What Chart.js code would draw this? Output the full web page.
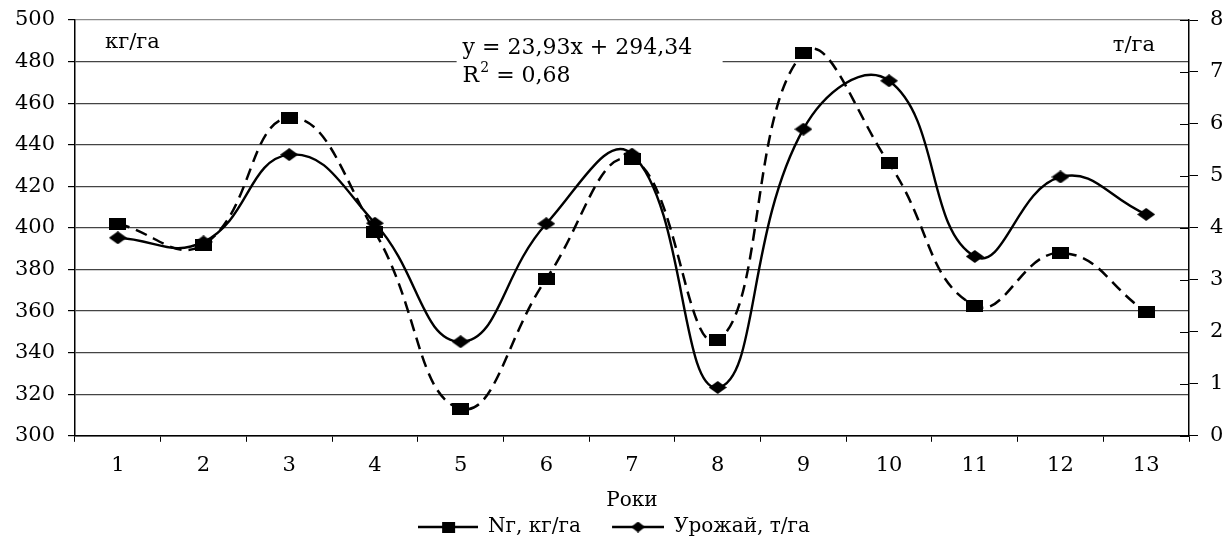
<!DOCTYPE html>
<html>
<head>
<meta charset="utf-8">
<script src="https://cdn.jsdelivr.net/npm/chart.js@4/dist/chart.umd.min.js"></script>
<style>
  html, body { margin: 0; padding: 0; background: #fff; }
  #wrap { width: 1228px; height: 547px; }
</style>
</head>
<body>
<div id="wrap"><canvas id="chart"></canvas></div>
<script>
// data
const years = ['1', '2', '3', '4', '5', '6', '7', '8', '9', '10', '11', '12', '13'];
const nitrogen = [402, 392, 453, 398, 313, 375.5, 433, 346, 484, 431, 362.6, 388, 359.5]; // Nг, кг/га
const harvest = [3.81, 3.73, 5.41, 4.09, 1.81, 4.08, 5.42, 0.93, 5.9, 6.83, 3.45, 4.98, 4.26]; // Урожай, т/га
const leftTicks = { min: 300, max: 500, step: 20 };
const rightTicks = { min: 0, max: 8, step: 1 };
const trendText = ['y = 23,93x + 294,34', 'R² = 0,68'];

const FONT = 'DejaVu Serif';

function rectMarker(w, h) {
  const c = document.createElement('canvas');
  c.width = w; c.height = h;
  const g = c.getContext('2d');
  g.fillStyle = '#000';
  g.fillRect(0, 0, w, h);
  return c;
}

function diamondMarker(w, h) {
  const c = document.createElement('canvas');
  c.width = w; c.height = h;
  const g = c.getContext('2d');
  g.fillStyle = '#000';
  g.beginPath();
  g.moveTo(w / 2, 0);
  g.lineTo(w, h / 2);
  g.lineTo(w / 2, h);
  g.lineTo(0, h / 2);
  g.closePath();
  g.fill();
  return c;
}

// legend sample: line with the marker in the middle, right-aligned in a fixed box
function legendIcon(marker, lineLen, boxW) {
  const c = document.createElement('canvas');
  c.width = boxW; c.height = 16;
  const g = c.getContext('2d');
  const x0 = boxW - lineLen;
  g.strokeStyle = '#000';
  g.lineWidth = 2.5;
  g.beginPath();
  g.moveTo(x0, 8);
  g.lineTo(boxW, 8);
  g.stroke();
  g.drawImage(marker, x0 + (lineLen - marker.width) / 2, (16 - marker.height) / 2);
  return c;
}

const squareBig = rectMarker(17, 12);
const diamondBig = diamondMarker(18, 13);
const legendIcons = [
  legendIcon(rectMarker(13, 11), 60, 60),
  legendIcon(diamondMarker(14, 11), 52, 60)
];

// inner half of right axis ticks + unit labels + trend box
const extras = {
  id: 'extras',
  beforeDatasetsDraw(chart) {
    const ctx = chart.ctx;
    const area = chart.chartArea;
    const yR = chart.scales.yR;
    ctx.save();
    ctx.strokeStyle = '#000';
    ctx.lineWidth = 1;
    for (let v = rightTicks.min; v <= rightTicks.max; v += rightTicks.step) {
      const y = Math.round(yR.getPixelForValue(v)) + 0.5;
      ctx.beginPath();
      ctx.moveTo(area.right - 9, y);
      ctx.lineTo(area.right, y);
      ctx.stroke();
    }

    // white box behind the equation
    const yL = chart.scales.y;
    const x0 = chart.scales.x.getPixelForValue(4) - 4;
    const yTop = yL.getPixelForValue(493);
    const yBot = yL.getPixelForValue(465);
    ctx.fillStyle = '#fff';
    ctx.fillRect(x0, yTop, 266, yBot - yTop);

    ctx.fillStyle = '#000';
    ctx.font = '22px "' + FONT + '"';
    ctx.textBaseline = 'middle';
    ctx.textAlign = 'left';
    ctx.fillText(trendText[0], x0 + 6, yL.getPixelForValue(486.5));
    ctx.fillText('R', x0 + 6, yL.getPixelForValue(473));
    const rw = ctx.measureText('R').width;
    ctx.font = '14px "' + FONT + '"';
    ctx.fillText('2', x0 + 6 + rw + 1, yL.getPixelForValue(476.5));
    ctx.font = '22px "' + FONT + '"';
    ctx.fillText(trendText[1].slice(2), x0 + 6 + rw + 10, yL.getPixelForValue(473));

    ctx.font = '21px "' + FONT + '"';
    ctx.fillText('кг/га', area.left + 30, yL.getPixelForValue(489));
    ctx.textAlign = 'right';
    ctx.fillText('т/га', area.right - 34, yR.getPixelForValue(7.5));
    ctx.restore();
  }
};

function noVerticalPad(s) {
  s.paddingTop = 0;
  s.paddingBottom = 0;
}

new Chart(document.getElementById('chart'), {
  type: 'line',
  data: {
    labels: years,
    datasets: [
      {
        label: 'Nг, кг/га',
        data: nitrogen,
        yAxisID: 'y',
        borderColor: '#000',
        borderWidth: 2.5,
        borderDash: [12, 7],
        tension: 0.45,
        pointStyle: squareBig,
        pointRadius: 6,
        fill: false
      },
      {
        label: 'Урожай, т/га',
        data: harvest,
        yAxisID: 'yR',
        borderColor: '#000',
        borderWidth: 2.4,
        tension: 0.45,
        pointStyle: diamondBig,
        pointRadius: 6,
        fill: false
      }
    ]
  },
  options: {
    responsive: true,
    maintainAspectRatio: false,
    animation: false,
    devicePixelRatio: 1,
    layout: { padding: { top: 20, left: 0, right: 0, bottom: 0 } },
    plugins: {
      tooltip: { enabled: false },
      legend: {
        position: 'bottom',
        labels: {
          color: '#000',
          font: { family: FONT, size: 20 },
          usePointStyle: true,
          pointStyleWidth: 60,
          padding: 4,
          generateLabels(chart) {
            const items = Chart.defaults.plugins.legend.labels.generateLabels(chart);
            items.forEach((it, i) => {
              it.pointStyle = legendIcons[i];
              it.lineDash = [];
              if (i === 0) it.text += '   ';
            });
            return items;
          }
        }
      }
    },
    scales: {
      x: {
        offset: true,
        grid: {
          offset: true,
          drawOnChartArea: false,
          tickLength: 6,
          tickColor: '#000',
          tickWidth: 1
        },
        border: { color: '#000', width: 1.5 },
        ticks: {
          color: '#000',
          font: { family: FONT, size: 21 },
          padding: 11,
          maxRotation: 0
        },
        title: {
          display: true,
          text: 'Роки',
          color: '#000',
          font: { family: FONT, size: 20 },
          padding: { top: 0, bottom: 0 }
        }
      },
      y: {
        position: 'left',
        min: leftTicks.min,
        max: leftTicks.max,
        afterFit(s) { s.width = 75; noVerticalPad(s); },
        grid: {
          color: ctx => ctx.tick && ctx.tick.value === leftTicks.max ? '#8c8c8c' : '#444',
          lineWidth: 1.2,
          tickLength: 7,
          tickColor: '#000'
        },
        border: { color: '#000', width: 1.5 },
        ticks: {
          stepSize: leftTicks.step,
          color: '#000',
          font: { family: FONT, size: 21 },
          padding: 13
        }
      },
      yR: {
        position: 'right',
        min: rightTicks.min,
        max: rightTicks.max,
        afterFit(s) { s.width = 39; noVerticalPad(s); },
        grid: {
          drawOnChartArea: false,
          tickLength: 9,
          tickColor: '#000'
        },
        border: { color: '#000', width: 1.5 },
        ticks: {
          stepSize: rightTicks.step,
          color: '#000',
          font: { family: FONT, size: 21 },
          padding: 12
        }
      }
    }
  },
  plugins: [extras]
});
</script>
</body>
</html>
